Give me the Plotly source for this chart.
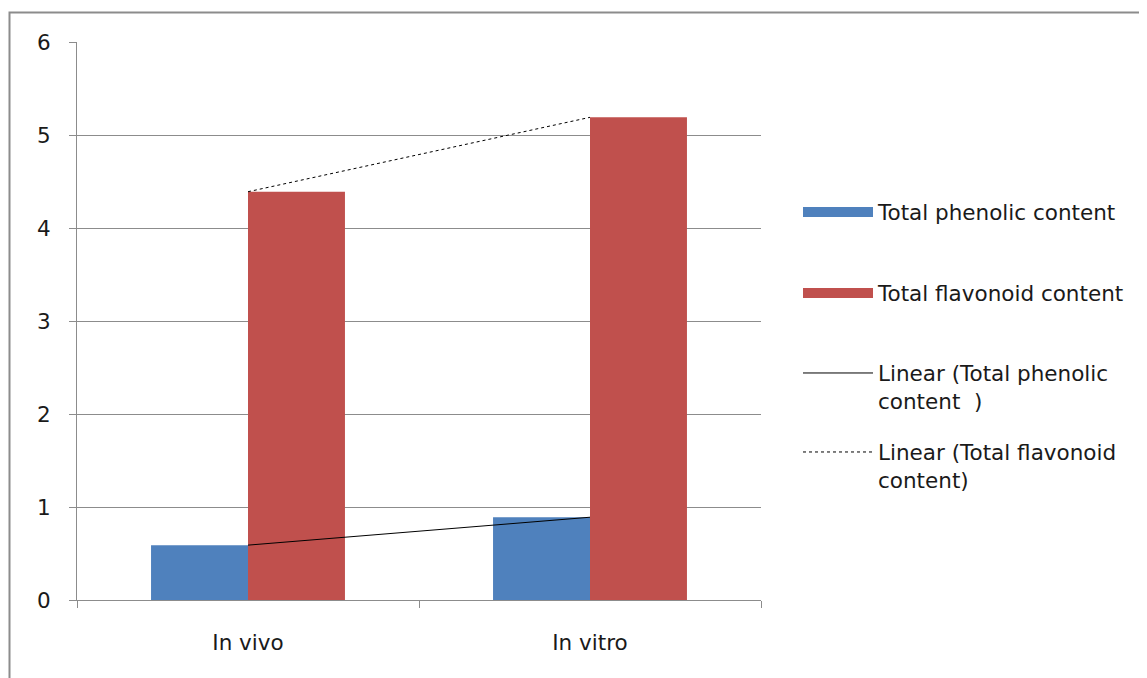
import numpy as np
import plotly.graph_objects as go

categories = ["In vivo", "In vitro"]
phenolic = [0.59, 0.89]
flavonoid = [4.39, 5.19]
y_ticks = [0, 1, 2, 3, 4, 5, 6]
series_names = ["Total phenolic content", "Total flavonoid content",
                "Linear (Total phenolic<br>content  )", "Linear (Total flavonoid<br>content)"]

FONT = "DejaVu Sans, sans-serif"
FS = 21.5
GRID = "#8c8c8c"
BLUE = "#4F81BD"
RED = "#C0504D"

def linear_fit(vals):
    xs = np.arange(len(vals))
    m, b = np.polyfit(xs, vals, 1)
    return list(m * xs + b)

fig = go.Figure()
fig.add_trace(go.Bar(x=categories, y=phenolic, name=series_names[0], showlegend=False,
                     marker=dict(color=BLUE, line=dict(width=0))))
fig.add_trace(go.Bar(x=categories, y=flavonoid, name=series_names[1], showlegend=False,
                     marker=dict(color=RED, line=dict(width=0))))
# legend swatches for the bar series (wide Excel-style keys)
fig.add_trace(go.Scatter(x=[None], y=[None], mode="lines", name=series_names[0],
                         line=dict(color=BLUE, width=12), legend="legend", showlegend=True))
fig.add_trace(go.Scatter(x=[None], y=[None], mode="lines", name=series_names[1],
                         line=dict(color=RED, width=12), legend="legend2", showlegend=True))
fig.add_trace(go.Scatter(x=categories, y=linear_fit(phenolic), mode="lines",
                         name=series_names[2], showlegend=True,
                         line=dict(color="black", width=1), legend="legend3"))
fig.add_trace(go.Scatter(x=categories, y=linear_fit(flavonoid), mode="lines",
                         name=series_names[3], showlegend=True,
                         line=dict(color="black", width=1, dash="dot"), legend="legend4"))

# page body has an 8px margin; the figure is sized so the plot sits at the reference pixels
OFF = 8
W, H = 1147 - OFF, 678 - OFF
X0, X1, Y0, Y1 = 77, 761, 42, 600  # plot area in screen pixels
L, T = X0 - OFF, Y0 - OFF
R, B = W - (X1 - OFF), H - (Y1 - OFF)
pw, ph = X1 - X0, Y1 - Y0

def px(x):
    return (x - X0) / pw

def py(y):
    return (Y1 - y) / ph

leg_common = dict(xanchor="left", yanchor="middle", bgcolor="rgba(0,0,0,0)",
                  font=dict(family=FONT, size=FS, color="#1a1a1a"),
                  itemwidth=70, valign="top", borderwidth=0)

fig.update_layout(
    width=W, height=H,
    margin=dict(l=L, r=R, t=T, b=B, pad=0),
    paper_bgcolor="white", plot_bgcolor="white",
    showlegend=True,
    barmode="group", bargap=0.433, bargroupgap=0,
    font=dict(family=FONT, size=FS, color="#1a1a1a"),
    xaxis=dict(showgrid=False, showline=True, linecolor=GRID, linewidth=1,
               ticks="outside", tickson="boundaries", ticklen=7, tickcolor=GRID,
               ticklabelstandoff=23, tickfont=dict(family=FONT, size=FS)),
    yaxis=dict(range=[0, 6], tickvals=y_ticks, showgrid=True, gridcolor=GRID, gridwidth=1,
               showline=True, linecolor=GRID, linewidth=1, ticks="outside", ticklen=7,
               tickcolor=GRID, ticklabelstandoff=14, zeroline=False,
               tickfont=dict(family=FONT, size=FS)),
    legend=dict(x=px(798), y=py(212), **leg_common),
    legend2=dict(x=px(798), y=py(293), **leg_common),
    legend3=dict(x=px(798), y=py(387), **leg_common),
    legend4=dict(x=px(798), y=py(466), **leg_common),
    shapes=[dict(type="rect", xref="paper", yref="paper",
                 x0=px(9.5), x1=px(1170), y0=py(700), y1=py(12.5),
                 line=dict(color="#8c8c8c", width=2), fillcolor="rgba(0,0,0,0)", layer="below")],
)

fig.write_html("out.html")
